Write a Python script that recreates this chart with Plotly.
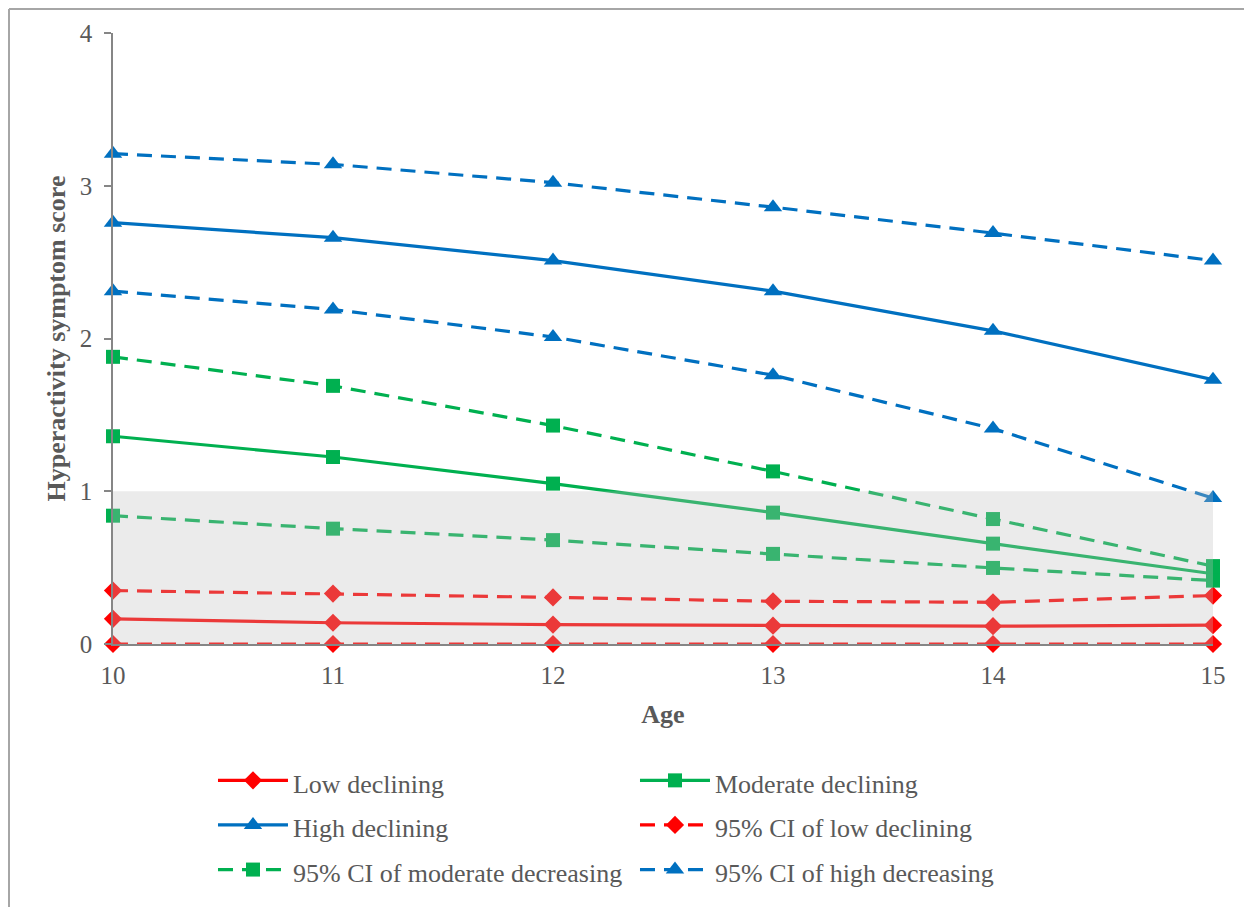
import plotly.graph_objects as go

ages = [10, 11, 12, 13, 14, 15]

low = [0.165, 0.139, 0.127, 0.120, 0.117, 0.123]
low_ci_upper = [0.35, 0.33, 0.305, 0.28, 0.273, 0.317]
low_ci_lower = [0, 0, 0, 0, 0, 0]

moderate = [1.36, 1.224, 1.05, 0.86, 0.657, 0.46]
moderate_ci_upper = [1.88, 1.69, 1.43, 1.13, 0.818, 0.51]
moderate_ci_lower = [0.84, 0.755, 0.68, 0.59, 0.498, 0.415]

high = [2.758, 2.66, 2.51, 2.31, 2.05, 1.73]
high_ci_upper = [3.21, 3.14, 3.02, 2.86, 2.69, 2.51]
high_ci_lower = [2.31, 2.19, 2.01, 1.76, 1.41, 0.955]

RED = "#ff0000"
GREEN = "#00b050"
BLUE = "#0070c0"
FONT = "Liberation Serif"
TXT = "#595959"
DASH = "15px,9px"
SIZES = {"diamond": 14, "square": 14, "triangle-up": 16}

fig = go.Figure()


def add(y, name, color, symbol, dash, showlegend=True, legendrank=None):
    fig.add_trace(go.Scatter(
        x=ages, y=y, name="<span style='font-size:26px'>" + name + "</span>",
        mode="lines+markers",
        line=dict(color=color, width=3.2, dash=dash),
        marker=dict(color=color, symbol=symbol, size=SIZES[symbol]),
        cliponaxis=False, showlegend=showlegend,
        legendrank=legendrank,
    ))


add(low, "Low declining", RED, "diamond", "solid", legendrank=1)
add(moderate, "Moderate declining", GREEN, "square", "solid", legendrank=2)
add(high, "High declining", BLUE, "triangle-up", "solid", legendrank=3)
add(low_ci_upper, "95% CI of low declining", RED, "diamond", DASH, legendrank=4)
add(low_ci_lower, "95% CI of low declining", RED, "diamond", DASH, showlegend=False)
add(moderate_ci_upper, "95% CI of moderate decreasing", GREEN, "square", DASH, legendrank=5)
add(moderate_ci_lower, "95% CI of moderate decreasing", GREEN, "square", DASH, showlegend=False)
add(high_ci_upper, "95% CI of high decreasing", BLUE, "triangle-up", DASH, legendrank=6)
add(high_ci_lower, "95% CI of high decreasing", BLUE, "triangle-up", DASH, showlegend=False)

# shaded band 0..1
fig.add_shape(type="rect", xref="x", yref="y", x0=10, x1=15, y0=0, y1=1,
              fillcolor="rgba(190,190,190,0.3)", line=dict(width=0), layer="above")

# outer frame (top and left edges)
FX = -104 / 1100
FY = 1 + 24 / 611
fig.add_shape(type="line", xref="paper", yref="paper",
              x0=FX, x1=1.2, y0=FY, y1=FY,
              line=dict(color="#a6a6a6", width=2))
fig.add_shape(type="line", xref="paper", yref="paper",
              x0=FX, x1=FX, y0=FY, y1=-0.5,
              line=dict(color="#a6a6a6", width=2))

fig.update_layout(
    width=1252, height=907,
    margin=dict(l=105, r=47, t=25, b=271),
    paper_bgcolor="white", plot_bgcolor="white",
    font=dict(family=FONT, size=25, color=TXT),
    showlegend=True,
    legend=dict(
        orientation="h", x=0.0909, xanchor="left", y=-0.1785, yanchor="top",
        entrywidth=337, entrywidthmode="pixels",
        font=dict(family=FONT, size=32, color=TXT),
        itemwidth=70, traceorder="normal",
    ),
    xaxis=dict(
        range=[10, 15], dtick=1, tick0=10, showgrid=False, zeroline=False,
        showline=True, linecolor="#868686", linewidth=1.5, ticks="",
        ticklabelstandoff=8,
        title=dict(text="<b>Age</b>", font=dict(family=FONT, size=26, color=TXT), standoff=17),
        tickfont=dict(family=FONT, size=25, color=TXT),
    ),
    yaxis=dict(
        range=[0, 4], dtick=1, tick0=0, showgrid=False, zeroline=False,
        showline=True, linecolor="#868686", linewidth=1.5, ticks="outside",
        ticklen=7, tickcolor="#868686", tickwidth=1.5,
        ticklabelstandoff=7,
        title=dict(text="<b>Hyperactivity symptom score</b>",
                   font=dict(family=FONT, size=26, color=TXT), standoff=7),
        tickfont=dict(family=FONT, size=25, color=TXT),
    ),
)

fig.write_html("out.html")
